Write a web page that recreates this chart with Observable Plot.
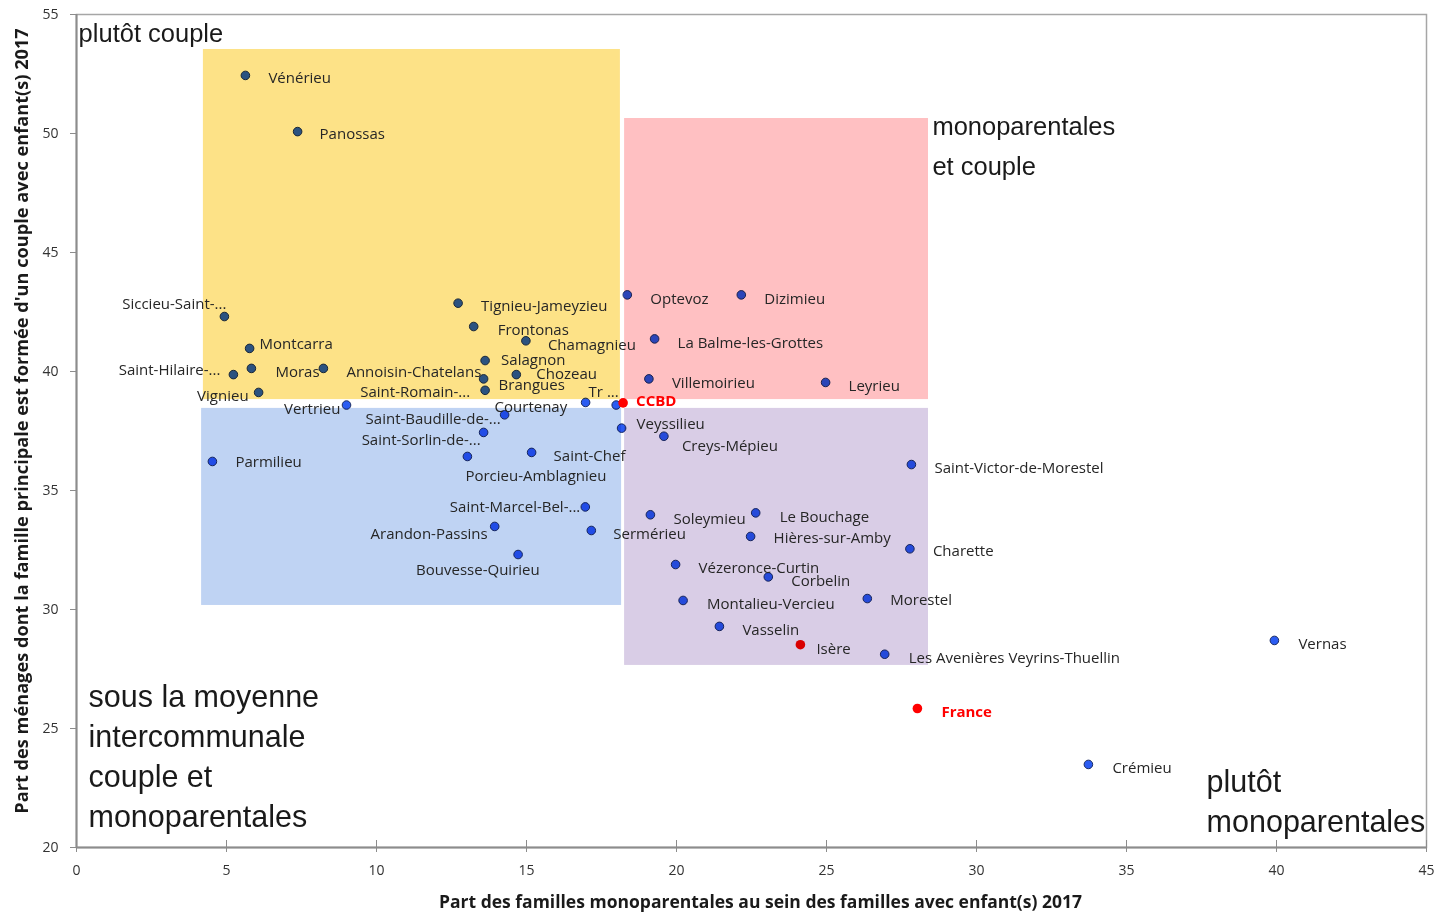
<!DOCTYPE html>
<html><head><meta charset="utf-8">
<script src="https://cdn.jsdelivr.net/npm/d3@7"></script>
<script src="https://cdn.jsdelivr.net/npm/@observablehq/plot@0.6"></script>
<style>body{margin:0;background:#fff} svg{display:block}</style>
</head><body><div id="chart"></div>
<script>
// ---- Data ----
const communes = ["Vénérieu","Panossas","Siccieu-Saint-...","Montcarra","Saint-Hilaire-...","Moras","Annoisin-Chatelans","Vignieu","Vertrieu","Tignieu-Jameyzieu","Frontonas","Chamagnieu","Salagnon","Brangues","Chozeau","Saint-Romain-...","Tr ...","Courtenay","Saint-Baudille-de-...","Saint-Sorlin-de-...","Porcieu-Amblagnieu","Saint-Chef","Parmilieu","Saint-Marcel-Bel-...","Arandon-Passins","Sermérieu","Bouvesse-Quirieu","Optevoz","Dizimieu","La Balme-les-Grottes","Villemoirieu","Leyrieu","CCBD","Veyssilieu","Creys-Mépieu","Soleymieu","Le Bouchage","Hières-sur-Amby","Charette","Vézeronce-Curtin","Corbelin","Montalieu-Vercieu","Morestel","Vasselin","Isère","Les Avenières Veyrins-Thuellin","Saint-Victor-de-Morestel","Vernas","France","Crémieu"];
const partMonoparentales = [5.63,7.37,4.93,5.77,5.23,5.83,8.23,6.07,9.0,12.72,13.24,14.98,13.62,13.57,14.66,13.62,16.97,17.99,14.27,13.57,13.03,15.17,4.53,16.96,13.94,17.16,14.72,18.36,22.16,19.27,19.08,24.97,18.22,18.17,19.58,19.13,22.64,22.47,27.78,19.97,23.06,20.22,26.36,21.43,24.13,26.94,27.83,39.93,28.03,33.73];
const partCouplesEnfants = [52.44,50.08,42.31,40.97,39.87,40.13,40.13,39.12,38.59,42.87,41.89,41.29,40.46,39.69,39.87,39.21,38.70,38.59,38.18,37.44,36.43,36.60,36.22,34.31,33.49,33.32,32.31,43.22,43.22,41.37,39.69,39.54,38.68,37.62,37.28,33.98,34.06,33.07,32.55,31.89,31.37,30.38,30.46,29.29,28.52,28.12,36.09,28.70,25.84,23.49];
const referencePoints = ["CCBD","Isère","France"];
const boldRedLabels = ["CCBD","France"];

const quadrantX1 = [4.23, 18.27, 4.17, 18.27];
const quadrantX2 = [18.13, 28.4, 18.17, 28.4];
const quadrantY1 = [38.82, 38.82, 30.17, 27.65];
const quadrantY2 = [53.53, 50.63, 38.45, 38.45];

const annotationTexts = ["plutôt couple","monoparentales\net couple","sous la moyenne\nintercommunale\ncouple et\nmonoparentales","plutôt\nmonoparentales"];
const annotationX = [0.07, 28.53, 0.4, 37.67];
const annotationY = [54.2, 49.62, 23.91, 22.01];

const xTicks = [0,5,10,15,20,25,30,35,40,45];
const yTicks = [20,25,30,35,40,45,50,55];
const xTitle = "Part des familles monoparentales au sein des familles avec enfant(s) 2017";
const yTitle = "Part des ménages dont la famille principale est formée d'un couple avec enfant(s) 2017";

// ---- Styles (kept apart from data) ----
const quadrantColors = ["#fde287","#ffc0c2","#bfd3f3","#d9cde6"];
const annotationSizes = [25.5, 25.5, 30.5, 30.5];
const annotationLineHeights = [1, 1.57, 1.31, 1.31];
// label offsets in pixels: [dx, dy, anchor]
const labelOffsets = {
  "Vénérieu":[23,3,"start"],"Panossas":[22,3,"start"],"Siccieu-Saint-...":[2,-12,"end"],
  "Montcarra":[10,-4,"start"],"Saint-Hilaire-...":[-13,-4,"end"],"Moras":[24,4,"start"],
  "Annoisin-Chatelans":[23,4,"start"],"Vignieu":[-10,4,"end"],"Vertrieu":[-6,4,"end"],
  "Tignieu-Jameyzieu":[23,3,"start"],"Frontonas":[24,4,"start"],"Chamagnieu":[22,4,"start"],
  "Salagnon":[16,0,"start"],"Brangues":[15,6,"start"],"Chozeau":[20,0,"start"],
  "Saint-Romain-...":[-15,2,"end"],"Tr ...":[3,-10,"start"],"Courtenay":[-49,2,"end"],
  "Saint-Baudille-de-...":[-4,4,"end"],"Saint-Sorlin-de-...":[-3,8,"end"],
  "Porcieu-Amblagnieu":[-2,20,"start"],"Saint-Chef":[22,4,"start"],"Parmilieu":[23,1,"start"],
  "Saint-Marcel-Bel-...":[-5,0,"end"],"Arandon-Passins":[-7,8,"end"],"Sermérieu":[22,4,"start"],
  "Bouvesse-Quirieu":[-102,16,"start"],"Optevoz":[23,4,"start"],"Dizimieu":[23,4,"start"],
  "La Balme-les-Grottes":[23,4,"start"],"Villemoirieu":[23,4,"start"],"Leyrieu":[23,4,"start"],
  "CCBD":[13,-2,"start"],"Veyssilieu":[15,-4,"start"],"Creys-Mépieu":[18,10,"start"],
  "Soleymieu":[23,4,"start"],"Le Bouchage":[24,4,"start"],"Hières-sur-Amby":[23,2,"start"],
  "Charette":[23,2,"start"],"Vézeronce-Curtin":[23,4,"start"],"Corbelin":[23,4,"start"],
  "Montalieu-Vercieu":[24,4,"start"],"Morestel":[23,2,"start"],"Vasselin":[23,4,"start"],
  "Isère":[16,4,"start"],"Les Avenières Veyrins-Thuellin":[24,4,"start"],
  "Saint-Victor-de-Morestel":[23,4,"start"],"Vernas":[24,4,"start"],"France":[24,4,"start"],
  "Crémieu":[24,4,"start"]
};

// ---- Tables built from arrays ----
const points = communes.map((name, i) => ({name, x: partMonoparentales[i], y: partCouplesEnfants[i], ref: referencePoints.includes(name)}));
const quadrants = quadrantX1.map((x1, i) => ({x1, x2: quadrantX2[i], y1: quadrantY1[i], y2: quadrantY2[i], color: quadrantColors[i]}));

const labelMarks = points.map(p => {
  const [dx, dy, anchor] = labelOffsets[p.name];
  const bold = boldRedLabels.includes(p.name);
  return Plot.text([p], {x: "x", y: "y", text: "name", dx, dy, textAnchor: anchor, lineAnchor: "middle",
    fill: bold ? "#ff0000" : "#262626", fontWeight: bold ? "bold" : "normal", fontSize: 15});
});

const annotationMarks = annotationTexts.map((t, i) => Plot.text([t], {
  x: () => annotationX[i], y: () => annotationY[i], text: d => d, textAnchor: "start", lineAnchor: "middle",
  fontSize: annotationSizes[i], lineHeight: annotationLineHeights[i], fill: "#1a1a1a",
  fontFamily: "Liberation Sans, Arial, sans-serif"
}));

const chart = Plot.plot({
  width: 1435, height: 912,
  marginLeft: 76, marginRight: 9, marginTop: 14, marginBottom: 65,
  style: {fontFamily: "Open Sans, sans-serif", background: "#fff"},
  x: {domain: [0, 45], axis: null},
  y: {domain: [20, 55], axis: null},
  marks: [
    Plot.dot(points.filter(d => !d.ref), {x: "x", y: "y", r: 4.3, fill: "#2b5cf2", stroke: "#1b2c63", strokeWidth: 1}),
    Plot.dot(points.filter(d => d.ref), {x: "x", y: "y", r: 4.8, fill: "#ff0000"}),
    Plot.rect(quadrants, {x1: "x1", x2: "x2", y1: "y1", y2: "y2", fill: "color", mixBlendMode: "multiply"}),
    Plot.frame({stroke: "#a6a6a6", strokeWidth: 1.5}),
    Plot.ruleX([0], {stroke: "#8c8c8c", strokeWidth: 2}),
    Plot.ruleY([20], {stroke: "#8c8c8c", strokeWidth: 2}),
    Plot.axisX(xTicks, {tickSize: 12, dy: -7, fill: "none", stroke: "#8c8c8c", label: null}),
    Plot.axisX(xTicks, {tickSize: 0, tickPadding: 18, stroke: "none", fill: "#333", fontSize: 14, label: null}),
    Plot.axisY(yTicks, {tickSize: 6, fill: "none", stroke: "#8c8c8c", label: null}),
    Plot.axisY(yTicks, {tickSize: 0, tickPadding: 18, stroke: "none", fill: "#333", fontSize: 14, label: null}),
    ...labelMarks,
    ...annotationMarks,
    Plot.text([xTitle], {frameAnchor: "bottom", text: d => d, dx: 9, dy: 55, textAnchor: "middle", lineAnchor: "middle", fontWeight: "bold", fontSize: 17.5, fill: "#1a1a1a"}),
    Plot.text([yTitle], {frameAnchor: "left", text: d => d, rotate: -90, dx: -54, dy: -10, textAnchor: "middle", lineAnchor: "middle", fontWeight: "bold", fontSize: 18.2, fill: "#1a1a1a"})
  ]
});
document.getElementById("chart").appendChild(chart);
</script>
</body></html>
